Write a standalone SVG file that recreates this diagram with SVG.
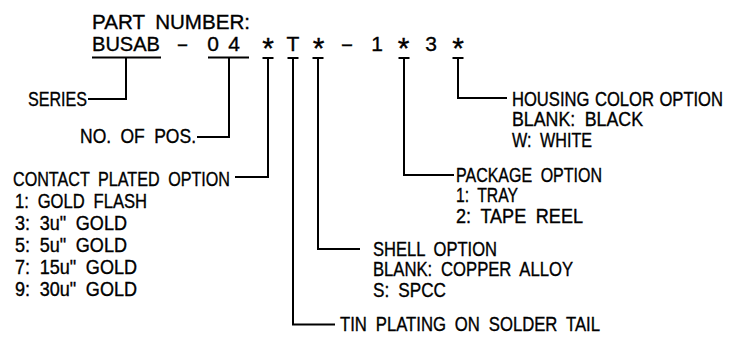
<svg xmlns="http://www.w3.org/2000/svg" width="743" height="342" viewBox="0 0 743 342">
<style>
  text { font-family: "Liberation Sans", Arial, sans-serif; font-size: 19.5px; fill: #000; stroke: #000; stroke-width: 0.35; word-spacing: 5px; }
  .big { font-size: 21px; }
  .ast { font-size: 30px; }
  .tight { font-size: 18px; word-spacing: 1px; }
  .ln { fill: none; stroke: #000; stroke-width: 2; stroke-linecap: butt; stroke-linejoin: miter; }
</style>
<rect width="743" height="342" fill="#fff"/>

<g id="part-number">
  <text class="big" x="92" y="28.5" textLength="158" lengthAdjust="spacingAndGlyphs">PART NUMBER:</text>
  <text class="big" x="92" y="51" textLength="68" lengthAdjust="spacingAndGlyphs">BUSAB</text>
  <text class="big" x="176.5" y="51" textLength="12" lengthAdjust="spacingAndGlyphs">-</text>
  <text class="big" x="213" y="51" text-anchor="middle">0</text>
  <text class="big" x="234" y="51" text-anchor="middle">4</text>
  <text class="ast" x="268" y="58" text-anchor="middle">*</text>
  <text class="big" x="293" y="51" text-anchor="middle">T</text>
  <text class="ast" x="318.5" y="58" text-anchor="middle">*</text>
  <text class="big" x="340.5" y="51" textLength="13" lengthAdjust="spacingAndGlyphs">-</text>
  <text class="big" x="377" y="51" text-anchor="middle">1</text>
  <text class="ast" x="403.5" y="58" text-anchor="middle">*</text>
  <text class="big" x="431" y="51" text-anchor="middle">3</text>
  <text class="ast" x="458" y="58" text-anchor="middle">*</text>
</g>

<g id="series">
  <text x="28" y="106" textLength="59" lengthAdjust="spacingAndGlyphs">SERIES</text>
</g>

<g id="no-of-pos">
  <text x="80" y="143" textLength="116" lengthAdjust="spacingAndGlyphs">NO. OF POS.</text>
</g>

<g id="contact-plated-option">
  <text x="13" y="185.5" textLength="217" lengthAdjust="spacingAndGlyphs">CONTACT PLATED OPTION</text>
  <text x="15" y="207.5" textLength="132" lengthAdjust="spacingAndGlyphs">1: GOLD FLASH</text>
  <text x="15" y="229.5" textLength="112" lengthAdjust="spacingAndGlyphs">3: 3u" GOLD</text>
  <text x="15" y="251.5" textLength="112" lengthAdjust="spacingAndGlyphs">5: 5u" GOLD</text>
  <text x="15" y="273.5" textLength="122" lengthAdjust="spacingAndGlyphs">7: 15u" GOLD</text>
  <text x="15" y="295.5" textLength="122" lengthAdjust="spacingAndGlyphs">9: 30u" GOLD</text>
</g>

<g id="tin-plating">
  <text x="340" y="331" textLength="260" lengthAdjust="spacingAndGlyphs">TIN PLATING ON SOLDER TAIL</text>
</g>

<g id="shell-option">
  <text x="373" y="255.5" textLength="124" lengthAdjust="spacingAndGlyphs">SHELL OPTION</text>
  <text x="373" y="276" textLength="200" lengthAdjust="spacingAndGlyphs">BLANK: COPPER ALLOY</text>
  <text x="373" y="296.5" textLength="73" lengthAdjust="spacingAndGlyphs">S: SPCC</text>
</g>

<g id="package-option">
  <text x="456" y="181.5" textLength="146" lengthAdjust="spacingAndGlyphs">PACKAGE OPTION</text>
  <text x="456" y="202" textLength="62" lengthAdjust="spacingAndGlyphs">1: TRAY</text>
  <text x="456" y="222.5" textLength="127" lengthAdjust="spacingAndGlyphs">2: TAPE REEL</text>
</g>

<g id="housing-color-option">
  <text class="tight" transform="translate(512,105.5) scale(1,1.08)" x="0" y="0" textLength="211" lengthAdjust="spacingAndGlyphs">HOUSING COLOR OPTION</text>
  <text x="512" y="126" textLength="131" lengthAdjust="spacingAndGlyphs">BLANK: BLACK</text>
  <text x="512" y="146.5" textLength="80" lengthAdjust="spacingAndGlyphs">W: WHITE</text>
</g>

<g id="connectors">
  <path class="ln" d="M92,57.5 H161"/>
  <path class="ln" d="M208,57.5 H249"/>
  <path class="ln" d="M262.5,58 H273.5 M287.5,58 H298.5 M312.5,58 H323.5 M398.5,58 H409.5 M452.5,58 H463.5"/>
  <path class="ln" d="M126,57.5 V99 H88"/>
  <path class="ln" d="M229,57.5 V137 H197"/>
  <path class="ln" d="M268,58 V177 H235"/>
  <path class="ln" d="M293,58 V324.5 H335"/>
  <path class="ln" d="M318,58 V249 H360"/>
  <path class="ln" d="M404,58 V175 H454"/>
  <path class="ln" d="M458,58 V98 H507"/>
</g>
</svg>
